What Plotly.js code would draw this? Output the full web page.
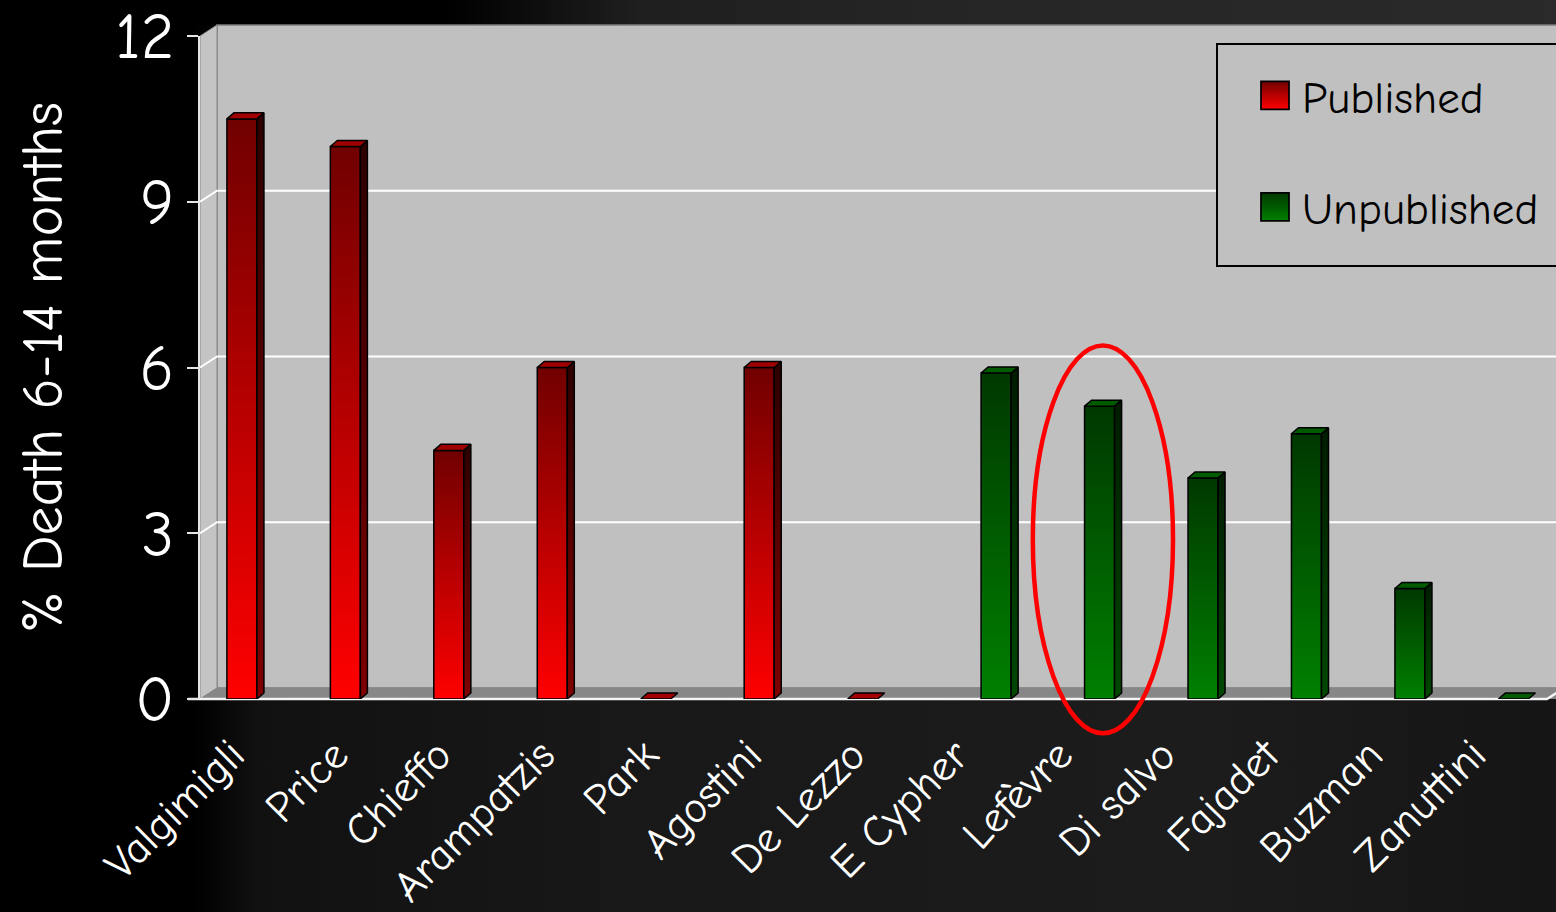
<!DOCTYPE html>
<html>
<head>
<meta charset="utf-8">
<script src="https://cdn.plot.ly/plotly-3.0.1.min.js"></script>
<style>
  html, body { margin: 0; padding: 0; }
  body {
    width: 1556px; height: 912px; overflow: hidden;
    background-color: #000;
    background-image:
      linear-gradient(to right, #000 0px, #000 450px, #1f1f1f 640px, #262626 1000px, #2a2a2a 1556px),
      linear-gradient(to right, #000 0px, #000 195px, #111 260px, #181818 600px, #1c1c1c 1200px, #151515 1556px);
    background-size: 100% 25px, 100% 100%;
    background-repeat: no-repeat;
  }
  #chart { width: 1556px; height: 912px; }
  /* larger legend swatches */
  #chart .legend .legendpoints path {
    transform: translate(58px, 0px) scale(1.75);
  }
</style>
</head>
<body>
<div id="chart"></div>
<script>
// Studies on the category axis
const studies = ['Valgimigli', 'Price', 'Chieffo', 'Arampatzis', 'Park', 'Agostini',
                 'De Lezzo', 'E Cypher', 'Lefèvre', 'Di salvo', 'Fajadet', 'Buzman', 'Zanuttini'];
// % death at 6-14 months
const published   = [10.5, 10, 4.5, 6, 0, 6, 0, null, null, null, null, null, null];
const unpublished = [null, null, null, null, null, null, null, 5.9, 5.3, 4.0, 4.8, 2.0, 0];
const yTicks = [0, 3, 6, 9, 12];
const highlighted = 'Lefèvre';

const FONT = '"Comic Sans MS", "Comic Neue", "Open Sans", sans-serif';

// plot frame in pixels
const L = 200, T = 36, W = 1347, H = 663;
const DEPTH_X = 17, DEPTH_Y = 11;          // offset of the back wall
const dxP = DEPTH_X / W, dyP = DEPTH_Y / H;
const Y_MAX = 12;
const px = x => (x - L) / W;               // page x -> paper x
const py = y => (T + H - y) / H;           // page y -> paper y

// bar geometry in axis units
const BW = 0.29;                       // bar width
const BAR_DX = 0.068, BAR_DY = 0.109;  // bar depth

const series = [
  { name: 'Published', values: published, offset: -BW / 2,
    front: ['#ff0000', '#700000'], side: ['#800000', '#2c0000'], top: '#a00000' },
  { name: 'Unpublished', values: unpublished, offset: BW / 2,
    front: ['#008000', '#003800'], side: ['#004800', '#001c00'], top: '#005a00' }
];

const traces = [];
const outline = { color: '#000', width: 1.5 };

function face(xs, ys, fill, group) {
  const t = {
    type: 'scatter', mode: 'lines', x: xs, y: ys, fill: 'toself',
    line: outline, hoverinfo: 'skip', showlegend: false, legendgroup: group
  };
  if (Array.isArray(fill)) {
    t.fillcolor = fill[0];
    t.fillgradient = {
      type: 'vertical',
      colorscale: [[0, fill[0]], [1, fill[1]]],
      start: Math.min.apply(null, ys), stop: Math.max.apply(null, ys)
    };
  } else {
    t.fillcolor = fill;
  }
  return t;
}

series.forEach(s => {
  s.values.forEach((v, i) => {
    if (v === null) return;
    const xl = i + s.offset - BW / 2, xr = xl + BW;
    if (v > 0) {
      traces.push(face([xl, xr, xr, xl, xl], [0, 0, v, v, 0], s.front, s.name));
      traces.push(face([xr, xr + BAR_DX, xr + BAR_DX, xr, xr],
                       [0, BAR_DY, v + BAR_DY, v, 0], s.side, s.name));
    }
    traces.push(face([xl, xr, xr + BAR_DX, xl + BAR_DX, xl],
                     [v, v, v + BAR_DY, v + BAR_DY, v], s.top, s.name));
  });
  // legend entry for the series
  traces.push({
    type: 'scatter', mode: 'markers', x: [null], y: [null], name: s.name,
    legendgroup: s.name, hoverinfo: 'skip',
    marker: { symbol: 'square', size: 16, color: s.front[1],
              gradient: { type: 'vertical', color: s.front[0] },
              line: { color: '#000', width: 1 } }
  });
});

// 3-D frame: back wall, left wall, floor, grid
const shapes = [];
const ext = 40 / W;
shapes.push({ type: 'rect', xref: 'paper', yref: 'paper', layer: 'below',
  x0: dxP, x1: 1 + ext, y0: dyP, y1: 1 + dyP,
  fillcolor: '#c0c0c0', line: { color: '#7c7c7c', width: 1.5 } });
shapes.push({ type: 'path', xref: 'paper', yref: 'paper', layer: 'below',
  path: `M0,0 L0,1 L${dxP},${1 + dyP} L${dxP},${dyP} Z`,
  fillcolor: '#c4c4c4', line: { color: '#8a8a8a', width: 1 } });
shapes.push({ type: 'path', xref: 'paper', yref: 'paper', layer: 'below',
  path: `M0,0 L${dxP},${dyP} L${1 + ext},${dyP} L${1 + ext},0 Z`,
  fillcolor: '#878787', line: { width: 0 } });
yTicks.filter(v => v > 0 && v < Y_MAX).forEach(v => {
  const y = v / Y_MAX;
  shapes.push({ type: 'path', xref: 'paper', yref: 'paper', layer: 'below',
    path: `M0,${y} L${dxP},${y + dyP} L${1 + ext},${y + dyP}`,
    line: { color: '#ffffff', width: 2 } });
});
// front edge of the floor
shapes.push({ type: 'path', xref: 'paper', yref: 'paper', layer: 'below',
  path: `M${-12 / W},0 L1,0 L${1 + dxP},${dyP}`,
  line: { color: '#f4f4f4', width: 2.5 } });

// highlight ring round one study
const hi = studies.indexOf(highlighted);
shapes.push({ type: 'circle', xref: 'x', yref: 'paper', layer: 'above',
  x0: hi - 0.5, x1: hi + 0.855, y0: -0.62 / Y_MAX, y1: 6.4 / Y_MAX,
  line: { color: '#ff0000', width: 4.5 } });

// legend panel
shapes.push({ type: 'rect', xref: 'paper', yref: 'paper', layer: 'above',
  x0: px(1217), x1: px(1580), y0: py(266), y1: py(44),
  fillcolor: '#c0c0c0', line: { color: '#000', width: 2 } });

const layout = {
  width: 1556, height: 912,
  margin: { l: L, r: 1556 - L - W, t: T, b: 912 - T - H, pad: 0 },
  paper_bgcolor: 'rgba(0,0,0,0)',
  plot_bgcolor: 'rgba(0,0,0,0)',
  font: { family: FONT, color: '#ffffff' },
  showlegend: true,
  legend: {
    x: px(1217), xanchor: 'left', y: py(44), yanchor: 'top',
    bgcolor: 'rgba(0,0,0,0)', borderwidth: 0,
    font: { family: FONT, size: 45, color: '#000' },
    title: { text: '&nbsp;', font: { size: 12 } },
    traceorder: 'grouped', tracegroupgap: 50, itemwidth: 75
  },
  xaxis: {
    range: [-0.55, 12.47], fixedrange: true,
    tickvals: studies.map((_, i) => i - BW / 2 - 0.1),
    ticktext: studies,
    tickangle: -45,
    tickfont: { family: FONT, size: 44, color: '#ffffff' },
    showgrid: false, zeroline: false, showline: false, ticks: '',
    ticklabelstandoff: 20
  },
  yaxis: {
    range: [0, Y_MAX], fixedrange: true,
    tickvals: yTicks, ticktext: yTicks.map(String),
    tickfont: { family: FONT, size: 64, color: '#ffffff' },
    showgrid: false, zeroline: false,
    showline: true, linecolor: '#e6e6e6', linewidth: 2,
    ticks: 'outside', ticklen: 11, tickwidth: 2, tickcolor: '#e6e6e6',
    ticklabelstandoff: 0,
    title: { text: '% Death 6-14 months', font: { family: FONT, size: 58, color: '#ffffff' }, standoff: 34 }
  },
  shapes: shapes
};

Plotly.newPlot('chart', traces, layout, { staticPlot: true, displayModeBar: false });
</script>
</body>
</html>
